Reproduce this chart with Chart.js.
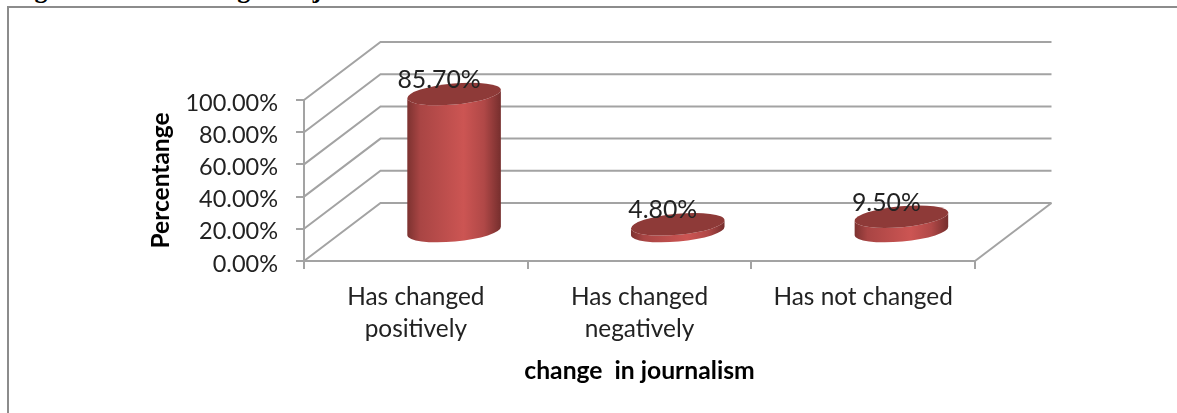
<!DOCTYPE html>
<html>
<head>
<meta charset="utf-8">
<title>change in journalism</title>
<script src="https://cdn.jsdelivr.net/npm/chart.js@4"></script>
<style>
  html, body { margin: 0; background: #fff; overflow: hidden; }
  #wrap { position: relative; width: 1177px; height: 413px; overflow: hidden; }
  #frame { position: absolute; left: 7px; top: 6px; width: 1177px; height: 420px; border: 2px solid #8c8c8c; }
  #heading { position: absolute; left: 6px; top: -25px; margin: 0; white-space: nowrap; font: bold 26px "Liberation Serif", serif; letter-spacing: 2.7px; color: #000; }
  #myChart { position: absolute; left: 0; top: 0; }
</style>
</head>
<body>
<div id="wrap">
  <p id="heading">Figure 3.1: Change in journalism</p>
  <div id="frame"></div>
  <canvas id="myChart" width="1177" height="413"></canvas>
</div>
<script>
const categories = [["Has changed", "positively"], ["Has changed", "negatively"], "Has not changed"]
const percentages = [85.7, 4.8, 9.5]
const yTicks = [0, 20, 40, 60, 80, 100]

const gridColor = "#a3a3a3"
const depthX = 76.5
const depthY = -58

// cylinders and back walls, the scale only gives a flat front plane
const walls = {
  id: "walls",
  beforeDatasetsDraw(chart) {
    const c = chart.ctx
    const x = chart.scales.x
    const y = chart.scales.y
    c.save()
    c.strokeStyle = gridColor
    c.lineWidth = 2
    yTicks.forEach((t) => {
      const py = y.getPixelForValue(t)
      c.beginPath()
      c.moveTo(x.left, py)
      c.lineTo(x.left + depthX, py + depthY)
      c.lineTo(x.right + depthX, py + depthY)
      c.stroke()
    })
    const py0 = y.getPixelForValue(0)
    c.beginPath()
    c.moveTo(x.right, py0)
    c.lineTo(x.right + depthX, py0 + depthY)
    c.stroke()
    c.restore()
  },
}

const cylinders = {
  id: "cylinders",
  afterDatasetsDraw(chart) {
    const c = chart.ctx
    const meta = chart.getDatasetMeta(0)
    const rot = -0.09
    meta.data.forEach((bar, i) => {
      const cx = bar.x + depthX / 2
      const rx = bar.width / 2
      const ry = 10.5
      const top = bar.y + depthY / 2
      const bottom = bar.base + depthY / 2
      const grad = c.createLinearGradient(cx - rx, 0, cx + rx, 0)
      grad.addColorStop(0, "#7c3230")
      grad.addColorStop(0.14, "#a94544")
      grad.addColorStop(0.6, "#cc5553")
      grad.addColorStop(0.82, "#b04847")
      grad.addColorStop(1, "#752e2d")
      c.save()
      c.fillStyle = grad
      c.beginPath()
      c.ellipse(cx, top, rx, ry, rot, Math.PI, 0, true)
      c.ellipse(cx, bottom, rx, ry, rot, 0, Math.PI, false)
      c.closePath()
      c.fill()
      c.fillStyle = "#8e3a38"
      c.beginPath()
      c.ellipse(cx, top, rx, ry, rot, 0, Math.PI * 2)
      c.fill()
      c.fillStyle = "#222"
      c.font = "24.8px Lato"
      c.textAlign = "center"
      c.textBaseline = "middle"
      c.fillText(percentages[i].toFixed(2) + "%", cx - 15, top - 14)
      c.restore()
    })
  },
}

new Chart(document.getElementById("myChart"), {
  type: "bar",
  data: {
    labels: categories,
    datasets: [
      {
        label: "Percentange",
        data: percentages,
        backgroundColor: "rgba(0,0,0,0)",
        barPercentage: 0.42,
        categoryPercentage: 1,
      },
    ],
  },
  options: {
    responsive: false,
    animation: false,
    layout: { padding: { left: 146, top: 100, right: 202, bottom: 27 } },
    plugins: { legend: { display: false }, tooltip: { enabled: false } },
    scales: {
      x: {
        afterFit: (s) => { s.height = 125 },
        grid: { drawOnChartArea: false, color: gridColor, lineWidth: 2, tickLength: 8 },
        border: { color: gridColor, width: 2 },
        ticks: { color: "#222", font: { family: "Lato", size: 24.4, lineHeight: 1.31 }, maxRotation: 0, padding: 12 },
        title: {
          display: true,
          text: "change  in journalism",
          color: "#000",
          font: { family: "Lato", size: 24.7, weight: "bold" },
          padding: 0,
        },
      },
      y: {
        min: 0,
        max: 100,
        afterFit: (s) => { s.width = 158 },
        afterBuildTicks: (s) => { s.ticks = yTicks.map((v) => ({ value: v })) },
        grid: { drawOnChartArea: false, color: gridColor, lineWidth: 2, tickLength: 8 },
        border: { color: gridColor, width: 2 },
        ticks: {
          color: "#222",
          font: { family: "Lato", size: 23.5, lineHeight: "6px" },
          padding: 18,
          // blank first line nudges the label 3px down, lato sits higher than the original font
          callback: (v) => ["", v.toFixed(2) + "%"],
        },
        title: {
          display: true,
          text: "Percentange",
          color: "#000",
          font: { family: "Lato", size: 24.5, weight: "bold" },
          padding: 0,
        },
      },
    },
  },
  plugins: [walls, cylinders],
})
</script>
</body>
</html>
